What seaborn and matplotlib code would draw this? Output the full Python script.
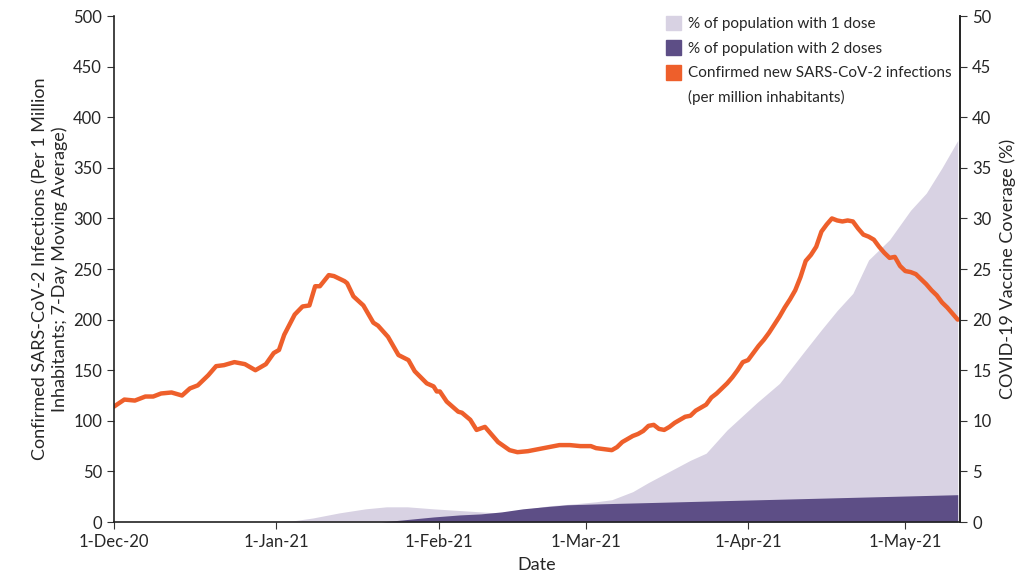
import pandas as pd
import numpy as np
import matplotlib
matplotlib.use('Agg')
import matplotlib.pyplot as plt
import matplotlib.dates as mdates
from matplotlib.patches import Patch
import seaborn as sns

sns.set_style('ticks')
plt.rcParams['font.family'] = ['Lato', 'DejaVu Sans']

start = pd.Timestamp('2020-12-01')

# new infections per million (7-day avg), day offset from 1-Dec-20
case_days = [0, 2, 4, 6, 7.5, 9, 11, 13, 14.5, 16, 18, 19.5, 21, 23, 25, 27, 29, 30.5, 31.5, 32.5,
             34.5, 36, 37.3, 38.4, 39.3, 41, 42, 44, 44.5, 45.7, 47.6, 49.5, 50.4, 52.3, 54.3, 56.2,
             57.4, 59.7, 61, 61.6, 62.2, 63.5, 65.7, 66.4, 68, 69.2, 70.8, 73.3, 75.5, 77, 79, 81,
             83, 85, 87, 89, 91, 92, 93.5, 95, 96, 97, 98, 99, 100, 101, 102, 103, 104, 105, 106,
             107, 108, 109, 110, 111, 112, 113, 114, 115, 116, 117, 118, 119, 120, 121, 122, 123,
             124, 125, 126, 127, 128, 129, 130, 131, 132, 133, 134, 135, 136, 137, 138, 139, 140,
             141, 142, 143, 144, 145, 146, 147, 148, 149, 150, 151, 152, 153, 154, 155, 156, 157,
             158, 159, 160, 161]
case_vals = [114, 121, 120, 124, 124, 127, 128, 125, 132, 135, 145, 154, 155, 158, 156, 150, 156, 167, 170, 185,
             205, 213, 214, 233, 233, 244, 243, 238, 236, 223, 214, 197, 194, 183, 165, 160,
             149, 137, 134, 129, 129, 119, 109, 108, 101, 91, 94, 79, 71, 69, 70, 72,
             74, 76, 76, 75, 75, 73, 72, 71, 74, 79, 82, 85, 87, 90, 95, 96, 92, 91, 94,
             98, 101, 104, 105, 110, 113, 116, 123, 127, 132, 137, 143, 150, 158, 160, 167, 174,
             180, 187, 195, 203, 212, 220, 229, 242, 258, 264, 272, 287, 294, 300, 298, 297, 298,
             297, 290, 284, 282, 279, 272, 266, 261, 262, 253, 248, 247, 245, 240, 235, 229, 224,
             217, 212, 206, 200]

# % of population with 1 dose
dose1_days = [30, 34, 38, 43, 48, 52, 56, 61, 67, 73, 78, 83, 88, 92, 95, 99, 102, 106, 110, 113,
              117, 122.7, 127, 131.5, 135, 138, 141, 144, 148, 152, 155, 158, 161]
dose1_vals = [0, 0.1, 0.4, 0.9, 1.3, 1.5, 1.5, 1.3, 1.1, 0.9, 1.2, 1.6, 1.8, 2.0, 2.2, 3.0, 3.9, 5.0, 6.1, 6.8,
              9.1, 11.8, 13.7, 16.7, 19.0, 20.9, 22.6, 25.9, 27.9, 30.8, 32.5, 35.0, 37.7]

# % of population with 2 doses
dose2_days = [51, 55, 61, 66, 70, 74, 78, 82, 86.5, 93, 161]
dose2_vals = [0, 0.2, 0.5, 0.7, 0.8, 1.0, 1.3, 1.5, 1.7, 1.8, 2.7]

cases = pd.DataFrame({'date': start + pd.to_timedelta(case_days, unit='D'), 'cases': case_vals})
d1 = pd.DataFrame({'date': start + pd.to_timedelta(dose1_days, unit='D'), 'pct': dose1_vals})
d2 = pd.DataFrame({'date': start + pd.to_timedelta(dose2_days, unit='D'), 'pct': dose2_vals})

c_one = '#d8d2e3'
c_two = '#5d4e86'
c_case = '#ee5f2b'

fig, ax = plt.subplots(figsize=(10.26, 5.73), dpi=100)
fig.subplots_adjust(left=0.111, right=0.936, bottom=0.089, top=0.972)
ax2 = ax.twinx()

# vaccine coverage areas on the right axis
ax2.fill_between(d1['date'], 0, d1['pct'], color=c_one, lw=0)
ax2.fill_between(d2['date'], 0, d2['pct'], color=c_two, lw=0)
ax2.set_ylim(0, 50)
ax2.set_yticks(range(0, 51, 5))
ax2.set_ylabel('COVID-19 Vaccine Coverage (%)', fontsize=13, labelpad=6)

# infection line on top
ax.set_zorder(ax2.get_zorder() + 1)
ax.patch.set_visible(False)
sns.lineplot(data=cases, x='date', y='cases', ax=ax, color=c_case, lw=3.2)
ax.set_ylim(0, 500)
ax.set_yticks(range(0, 501, 50))
ax.set_xlim(start, start + pd.Timedelta(days=161.5))
ax.set_xticks(pd.to_datetime(['2020-12-01', '2021-01-01', '2021-02-01', '2021-03-01', '2021-04-01', '2021-05-01']))
ax.xaxis.set_major_formatter(mdates.DateFormatter('%-d-%b-%y'))
ax.set_xlabel('Date', fontsize=13, labelpad=5)
ax.set_ylabel('Confirmed SARS-CoV-2 Infections (Per 1 Million\nInhabitants; 7-Day Moving Average)',
              fontsize=13, labelpad=4)

for a in (ax, ax2):
    a.tick_params(labelsize=12, length=5, color='#333333')
    a.spines['top'].set_visible(False)
    for s in ('left', 'right', 'bottom'):
        a.spines[s].set_color('#222222')
        a.spines[s].set_linewidth(1.2)
ax2.spines['left'].set_visible(False)
ax2.spines['bottom'].set_visible(False)

handles = [Patch(color=c_one), Patch(color=c_two), Patch(color=c_case), Patch(color='none')]
labels = ['% of population with 1 dose', '% of population with 2 doses',
          'Confirmed new SARS-CoV-2 infections', '(per million inhabitants)']
ax.legend(handles, labels, loc='upper left', bbox_to_anchor=(0.645, 1.013), frameon=False,
          fontsize=11, handlelength=1.0, handleheight=1.1, handletextpad=0.45,
          labelspacing=0.6, borderaxespad=0)

fig.savefig('out.png', dpi=100)
